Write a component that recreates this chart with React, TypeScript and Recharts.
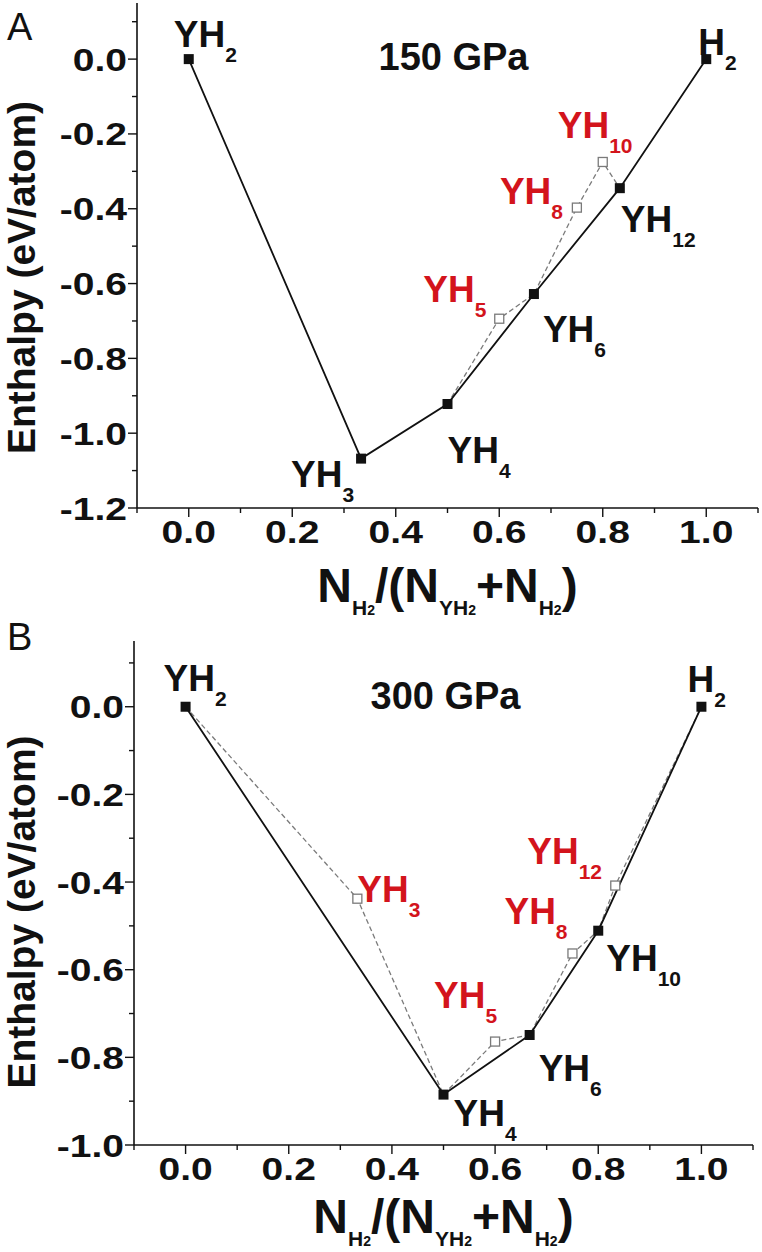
import React from 'react';
import { ComposedChart, Line, Scatter, XAxis, YAxis, ReferenceDot } from 'recharts';

const FONT = '"Liberation Sans", Arial, Helvetica, sans-serif';
const INK = '#111111';
const RED = '#d3141c';
const GREY = '#7a7a7a';

// composition N_H2/(N_YH2+N_H2)
const xTicks = [-0.1, 0, 0.1, 0.2, 0.3, 0.4, 0.5, 0.6, 0.7, 0.8, 0.9, 1.0, 1.1];
const yTicksA = [-1.2, -1.1, -1.0, -0.9, -0.8, -0.7, -0.6, -0.5, -0.4, -0.3, -0.2, -0.1, 0, 0.1];
const yTicksB = [-1.0, -0.9, -0.8, -0.7, -0.6, -0.5, -0.4, -0.3, -0.2, -0.1, 0, 0.1];

// panel A, 150 GPa
const hullNamesA = ['YH2', 'YH3', 'YH4', 'YH6', 'YH12', 'H2'];
const hullXA = [0, 0.333, 0.5, 0.667, 0.833, 1];
const hullYA = [0, -1.068, -0.922, -0.628, -0.345, 0];
const metaNamesA = ['YH5', 'YH8', 'YH10'];
const metaXA = [0.6, 0.75, 0.8];
const metaYA = [-0.694, -0.397, -0.275];
const dashXA = [0.5, 0.6, 0.667, 0.75, 0.8, 0.833];
const dashYA = [-0.922, -0.694, -0.628, -0.397, -0.275, -0.345];

// panel B, 300 GPa
const hullNamesB = ['YH2', 'YH4', 'YH6', 'YH10', 'H2'];
const hullXB = [0, 0.5, 0.667, 0.8, 1];
const hullYB = [0, -0.885, -0.749, -0.511, 0];
const metaNamesB = ['YH3', 'YH5', 'YH8', 'YH12'];
const metaXB = [0.333, 0.6, 0.75, 0.833];
const metaYB = [-0.438, -0.764, -0.563, -0.408];
const dashXB = [0, 0.333, 0.5, 0.6, 0.667, 0.75, 0.8, 0.833, 1];
const dashYB = [0, -0.438, -0.885, -0.764, -0.749, -0.563, -0.511, -0.408, 0];

// label placement (px from the marker: text start, baseline)
const labelPosA: Record<string, [number, number]> = {
  YH2: [-15, -12], H2: [-8, -4], YH3: [-70, 28], YH4: [0, 59], YH6: [9, 48],
  YH12: [1, 44], YH5: [-76, -17], YH8: [-77, -4], YH10: [-45, -24],
};
const labelPosB: Record<string, [number, number]> = {
  YH2: [-22, -16], H2: [-14, -15], YH3: [0, 3], YH4: [10, 31], YH5: [-61, -34],
  YH6: [9, 46], YH8: [-68, -29], YH10: [8, 40], YH12: [-88, -22],
};

const zip = (names: string[] | null, xs: number[], ys: number[]) =>
  xs.map((x, i) => ({ name: names ? names[i] : '', x, y: ys[i] }));

const Formula = ({ x, y, name, color }: any) => {
  const m = name.match(/^([A-Za-z]+)(\d*)$/);
  return (
    <text x={x} y={y} fill={color} fontFamily={FONT} fontWeight="bold" fontSize={37}>
      {m[1]}
      <tspan dy={15} fontSize={21}>{m[2]}</tspan>
    </text>
  );
};

const makeMarker = (pos: Record<string, [number, number]>, open: boolean) => (p: any) => {
  const { cx, cy, payload } = p;
  const off = pos[payload.name] || [0, 0];
  return (
    <g>
      {open ? (
        <rect x={cx - 4.5} y={cy - 4.5} width={9} height={9} fill="#fff" stroke={GREY} strokeWidth={1.3} />
      ) : (
        <rect x={cx - 5} y={cy - 5} width={10} height={10} fill={INK} />
      )}
      <Formula x={cx + off[0]} y={cy + off[1]} name={payload.name} color={open ? RED : INK} />
    </g>
  );
};

const makeTick = (side: string) => (p: any) => {
  const { x, y } = p;
  const v = p.payload.value as number;
  const major = Math.abs(Math.round(v * 10)) % 2 === 0;
  const len = major ? 9 : 5;
  const label = v.toFixed(1);
  const txt = (tx: number, ty: number, anchor: string) => (
    <text
      transform={`translate(${tx},${ty}) scale(1.22,1)`}
      textAnchor={anchor}
      fontFamily={FONT}
      fontWeight="bold"
      fontSize={32}
      fill={INK}
    >
      {label}
    </text>
  );
  if (side === 'left')
    return (
      <g>
        <line x1={x - len} y1={y} x2={x} y2={y} stroke={INK} strokeWidth={1.4} />
        {major && txt(x - 10, y + 11.5, 'end')}
      </g>
    );
  if (side === 'bottom')
    return (
      <g>
        <line x1={x} y1={y} x2={x} y2={y + len} stroke={INK} strokeWidth={1.4} />
        {major && txt(x, y + 35, 'middle')}
      </g>
    );
  if (side === 'top') return <line x1={x} y1={y} x2={x} y2={y + len} stroke={INK} strokeWidth={1.4} />;
  return <line x1={x - len} y1={y} x2={x} y2={y} stroke={INK} strokeWidth={1.4} />;
};

const XTitle = ({ viewBox, dy }: any) => {
  const cx = viewBox.x + viewBox.width / 2;
  const sub = (parts: string[]) => (
    <>
      <tspan dy={13} fontSize={21}>{parts[0]}</tspan>
      <tspan fontSize={14}>{parts[1]}</tspan>
    </>
  );
  return (
    <text x={cx} y={viewBox.y + dy} textAnchor="middle" fontFamily={FONT} fontWeight="bold" fontSize={48} fill={INK}>
      N{sub(['H', '2'])}
      <tspan dy={-13}>/(N</tspan>
      {sub(['YH', '2'])}
      <tspan dy={-13}>+N</tspan>
      {sub(['H', '2'])}
      <tspan dy={-13}>)</tspan>
    </text>
  );
};

const YTitle = ({ viewBox, dy, letter, letterY }: any) => {
  const cy = viewBox.y + viewBox.height / 2 + dy;
  return (
    <g>
      <text x={7} y={letterY} fontFamily={FONT} fontSize={38} fill={INK}>{letter}</text>
      <text
        transform={`translate(35,${cy}) rotate(-90)`}
        textAnchor="middle"
        fontFamily={FONT}
        fontWeight="bold"
        fontSize={39}
        fill={INK}
      >
        Enthalpy (eV/atom)
      </text>
    </g>
  );
};

interface PanelProps {
  height: number;
  margin: { top: number; right: number; left: number; bottom: number };
  yAxisWidth: number;
  xAxisHeight: number;
  yDomain: [number, number];
  yTicks: number[];
  hull: { name: string; x: number; y: number }[];
  meta: { name: string; x: number; y: number }[];
  dash: { name: string; x: number; y: number }[];
  pos: Record<string, [number, number]>;
  pressure: string;
  pressureOff: [number, number];
  letter: string;
  letterY: number;
  xTitleDy: number;
  yTitleDy: number;
}

const Panel = (p: PanelProps) => (
  <ComposedChart width={762} height={p.height} margin={p.margin}>
    <XAxis
      xAxisId="b"
      type="number"
      dataKey="x"
      domain={[-0.1, 1.1]}
      ticks={xTicks}
      interval={0}
      allowDataOverflow
      height={p.xAxisHeight}
      tickSize={0}
      tickMargin={0}
      tickLine={false}
      tick={makeTick('bottom')}
      axisLine={{ stroke: INK, strokeWidth: 1.6 }}
      label={(lp: any) => <XTitle viewBox={lp.viewBox} dy={p.xTitleDy} />}
    />
    <XAxis
      xAxisId="t"
      orientation="top"
      type="number"
      dataKey="x"
      domain={[-0.1, 1.1]}
      ticks={xTicks}
      interval={0}
      allowDataOverflow
      height={0}
      tickSize={0}
      tickMargin={0}
      tickLine={false}
      tick={makeTick('top')}
      axisLine={{ stroke: INK, strokeWidth: 1.6 }}
    />
    <YAxis
      yAxisId="l"
      type="number"
      dataKey="y"
      domain={p.yDomain}
      ticks={p.yTicks}
      interval={0}
      allowDataOverflow
      width={p.yAxisWidth}
      tickSize={0}
      tickMargin={0}
      tickLine={false}
      tick={makeTick('left')}
      axisLine={{ stroke: INK, strokeWidth: 1.6 }}
      label={(lp: any) => <YTitle viewBox={lp.viewBox} dy={p.yTitleDy} letter={p.letter} letterY={p.letterY} />}
    />
    <YAxis
      yAxisId="r"
      orientation="right"
      type="number"
      dataKey="y"
      domain={p.yDomain}
      ticks={p.yTicks}
      interval={0}
      allowDataOverflow
      width={0}
      tickSize={0}
      tickMargin={0}
      tickLine={false}
      tick={makeTick('right')}
      axisLine={{ stroke: INK, strokeWidth: 1.6 }}
    />
    <Line
      xAxisId="b"
      yAxisId="l"
      data={p.dash}
      dataKey="y"
      type="linear"
      stroke={GREY}
      strokeWidth={1.3}
      strokeDasharray="5 3"
      dot={false}
      activeDot={false}
      isAnimationActive={false}
    />
    <Line
      xAxisId="b"
      yAxisId="l"
      data={p.hull}
      dataKey="y"
      type="linear"
      stroke={INK}
      strokeWidth={1.8}
      dot={false}
      activeDot={false}
      isAnimationActive={false}
    />
    <Scatter xAxisId="b" yAxisId="l" data={p.meta} shape={makeMarker(p.pos, true)} isAnimationActive={false} />
    <Scatter xAxisId="b" yAxisId="l" data={p.hull} shape={makeMarker(p.pos, false)} isAnimationActive={false} />
    <ReferenceDot
      xAxisId="b"
      yAxisId="l"
      x={0.5}
      y={0}
      r={0}
      shape={(sp: any) => (
        <text
          x={sp.cx + p.pressureOff[0]}
          y={sp.cy + p.pressureOff[1]}
          textAnchor="middle"
          fontFamily={FONT}
          fontWeight="bold"
          fontSize={38}
          fill={INK}
        >
          {p.pressure}
        </text>
      )}
    />
  </ComposedChart>
);

export default function App() {
  return (
    <div style={{ position: 'absolute', left: 0, top: 0, width: 762, height: 1252, background: '#fff' }}>
      <div style={{ position: 'absolute', left: 0, top: 0 }}>
        <Panel
          height={626}
          margin={{ top: 3, right: 4, left: 0, bottom: 0 }}
          yAxisWidth={137}
          xAxisHeight={118}
          yDomain={[-1.2, 0.15]}
          yTicks={yTicksA}
          hull={zip(hullNamesA, hullXA, hullYA)}
          meta={zip(metaNamesA, metaXA, metaYA)}
          dash={zip(null, dashXA, dashYA)}
          pos={labelPosA}
          pressure="150 GPa"
          pressureOff={[6, 11]}
          letter="A"
          letterY={40}
          xTitleDy={94}
          yTitleDy={22}
        />
      </div>
      <div style={{ position: 'absolute', left: 0, top: 606 }}>
        <Panel
          height={646}
          margin={{ top: 35, right: 9, left: 0, bottom: 0 }}
          yAxisWidth={134}
          xAxisHeight={107}
          yDomain={[-1.0, 0.15]}
          yTicks={yTicksB}
          hull={zip(hullNamesB, hullXB, hullYB)}
          meta={zip(metaNamesB, metaXB, metaYB)}
          dash={zip(null, dashXB, dashYB)}
          pos={labelPosB}
          pressure="300 GPa"
          pressureOff={[2, 2]}
          letter="B"
          letterY={44}
          xTitleDy={88}
          yTitleDy={19}
        />
      </div>
    </div>
  );
}
